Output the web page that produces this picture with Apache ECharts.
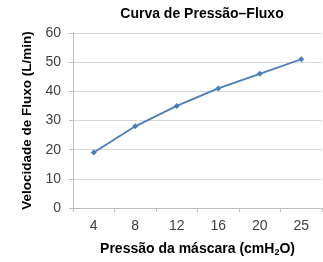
<!DOCTYPE html>
<html>
<head>
<meta charset="utf-8">
<script src="https://cdn.jsdelivr.net/npm/echarts@6/dist/echarts.min.js"></script>
<style>
  html, body { margin: 0; padding: 0; background: #fff; }
  #chart { width: 323px; height: 262px; }
</style>
</head>
<body>
<div id="chart"></div>
<script>
var pressao = ['4', '8', '12', '16', '20', '25'];
var fluxo = [19, 28, 35, 41, 46, 51];
var yTicks = [0, 60, 10]; // min, max, interval

var chart = echarts.init(document.getElementById('chart'));
var font = 'Liberation Sans, Arial, sans-serif';
chart.setOption({
    animation: false,
    title: {
        text: 'Curva de Pressão\u2013Fluxo',
        left: 197,
        textAlign: 'center',
        top: 2,
        textStyle: { fontFamily: font, fontSize: 14, fontWeight: 'bold', color: '#000' }
    },
    grid: { left: 73, right: 1, top: 33, bottom: 53 },
    xAxis: {
        type: 'category',
        data: pressao,
        boundaryGap: true,
        name: 'Pressão da máscara (cmH{sub|2}O)',
        nameLocation: 'middle',
        nameGap: 33,
        nameTextStyle: {
            fontFamily: font, fontSize: 14, fontWeight: 'bold', color: '#000',
            rich: { sub: { fontFamily: font, fontSize: 9, fontWeight: 'bold', color: '#000', verticalAlign: 'bottom', padding: [7, 0, 0, 0] } }
        },
        axisLine: { lineStyle: { color: '#bfbfbf' } },
        axisTick: { show: true, length: 4, lineStyle: { color: '#bfbfbf' } },
        axisLabel: { fontFamily: font, fontSize: 14, color: '#404040', margin: 11 }
    },
    yAxis: {
        type: 'value',
        min: yTicks[0],
        max: yTicks[1],
        interval: yTicks[2],
        name: 'Velocidade de Fluxo (L/min)',
        nameLocation: 'middle',
        nameGap: 38,
        nameTextStyle: { fontFamily: font, fontSize: 13.5, fontWeight: 'bold', color: '#000' },
        axisLine: { show: true, lineStyle: { color: '#bfbfbf' } },
        axisTick: { show: true, length: 4, lineStyle: { color: '#bfbfbf' } },
        axisLabel: { fontFamily: font, fontSize: 14, color: '#404040', margin: 12 },
        splitLine: { lineStyle: { color: '#d9d9d9' } }
    },
    series: [{
        type: 'line',
        data: fluxo,
        symbol: 'diamond',
        symbolSize: 6,
        lineStyle: { color: '#4a7ebb', width: 1.8 },
        itemStyle: { color: '#4a7ebb' }
    }]
});
</script>
</body>
</html>
